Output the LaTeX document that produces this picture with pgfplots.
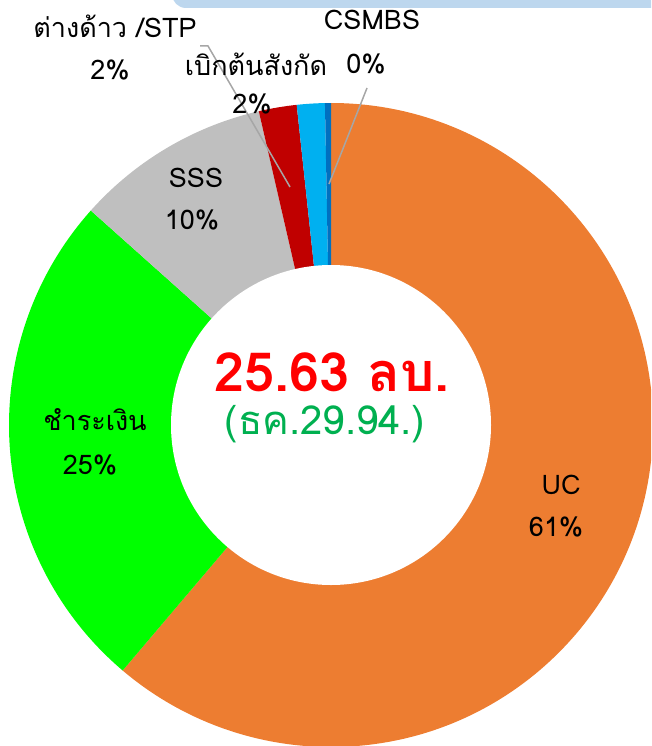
\documentclass[border=0pt]{standalone}
\usepackage{fontspec}
\setmainfont[Script=Thai]{Loma}
\usepackage{pgfplots}
\pgfplotsset{compat=1.18}

\definecolor{ucorange}{HTML}{ED7D31}
\definecolor{cashgreen}{HTML}{00FF00}
\definecolor{sssgray}{HTML}{BFBFBF}
\definecolor{stpred}{HTML}{C00000}
\definecolor{deptblue}{HTML}{00B0F0}
\definecolor{csmbsblue}{HTML}{0070C0}
\definecolor{topbox}{HTML}{BDD7EE}
\definecolor{leader}{HTML}{A6A6A6}
\definecolor{subgreen}{HTML}{00B050}

% one sector of the ring, from cumulative percent #2 to #3, clockwise from 12 o'clock
\newcommand\slice[3]{%
  \fill[#1] (axis cs:331,425) -- ++({90-3.6*#2}:322pt)
    arc[start angle={90-3.6*#2}, end angle={90-3.6*#3}, radius=322pt] -- cycle;}

\begin{document}
\begin{tikzpicture}
\clip (0,0) rectangle (651pt,746pt);
\begin{axis}[
  width=651pt, height=746pt, scale only axis,
  xmin=0, xmax=651, ymin=0, ymax=746, y dir=reverse,
  hide axis, clip=true]

% background box at the top edge
\fill[topbox, rounded corners=14pt] (axis cs:172,-30) rectangle (axis cs:720,8);

% shares in percent: UC 61.2, cash 25.4, SSS 9.8, STP 1.9, dept 1.4, CSMBS 0.3
\slice{ucorange}{0}{61.2}
\slice{cashgreen}{61.2}{86.6}
\slice{sssgray}{86.6}{96.4}
\slice{stpred}{96.4}{98.3}
\slice{deptblue}{98.3}{99.7}
\slice{csmbsblue}{99.7}{100}

\fill[white] (axis cs:331,425) circle[radius=160pt];

% leader lines
\draw[leader, line width=1.5pt] (axis cs:200,46) -- (axis cs:208,46) -- (axis cs:290,187);
\draw[leader, line width=1.5pt] (axis cs:367,88) -- (axis cs:329,184);

% labels
\tikzset{lbl/.style={font=\fontsize{27}{30}\selectfont, align=center, inner sep=0pt}}
\node[lbl] at (axis cs:561,485) {UC};
\node[lbl] at (axis cs:556,527) {61\%};
\node[lbl] at (axis cs:95,420) {ชำระเงิน};
\node[lbl] at (axis cs:90,465) {25\%};
\node[lbl] at (axis cs:196,178) {SSS};
\node[lbl] at (axis cs:192,220) {10\%};
\node[lbl] at (axis cs:115,26) {ต่างด้าว /STP};
\node[lbl] at (axis cs:110,70) {2\%};
\node[lbl] at (axis cs:256,64) {เบิกต้นสังกัด};
\node[lbl] at (axis cs:252,104) {2\%};
\node[lbl] at (axis cs:372,20) {CSMBS};
\node[lbl] at (axis cs:366,64) {0\%};

% centre text
\node[font=\fontsize{54}{56}\selectfont\bfseries, text=red, inner sep=0pt] at (axis cs:332,372) {25.63 ลบ.};
\node[font=\fontsize{40}{44}\selectfont, text=subgreen, inner sep=0pt] at (axis cs:325,424) {(ธค.29.94.)};
\end{axis}
\end{tikzpicture}
\end{document}
